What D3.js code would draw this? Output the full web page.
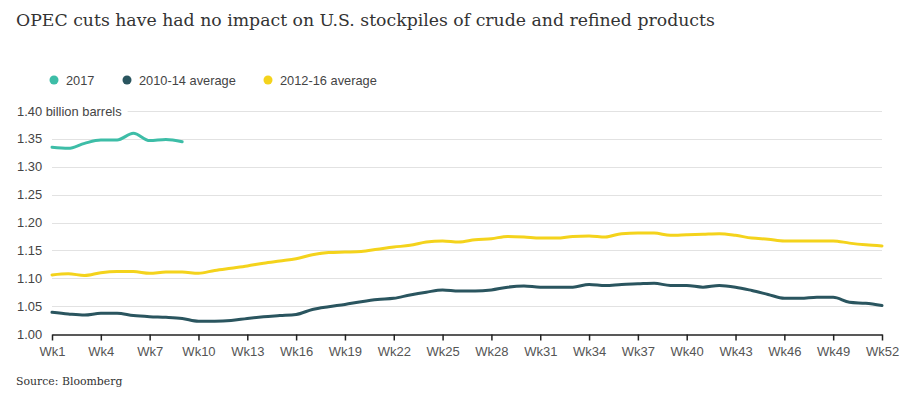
<!DOCTYPE html>
<html>
<head>
<meta charset="utf-8">
<script src="https://cdn.jsdelivr.net/npm/d3@7"></script>
<style>
  html, body { margin: 0; padding: 0; background: #fff; }
  svg { display: block; }
</style>
</head>
<body>
<svg id="chart" width="915" height="399"></svg>
<script>
// ---- data ----
const weeks = d3.range(1, 53);
const tickWeeks = [1, 4, 7, 10, 13, 16, 19, 22, 25, 28, 31, 34, 37, 40, 43, 46, 49, 52];
const yTicks = [1.00, 1.05, 1.10, 1.15, 1.20, 1.25, 1.30, 1.35, 1.40];
const seriesNames = ["2017", "2010-14 average", "2012-16 average"];
const v2017 = [1.335, 1.333, 1.342, 1.348, 1.348, 1.360, 1.347, 1.349, 1.345];
const avg1014 = [1.039, 1.036, 1.034, 1.037, 1.037, 1.033, 1.031, 1.030, 1.028, 1.023,
  1.023, 1.024, 1.028, 1.031, 1.033, 1.035, 1.044, 1.049, 1.053, 1.058,
  1.062, 1.064, 1.070, 1.075, 1.079, 1.077, 1.077, 1.079, 1.084, 1.086,
  1.084, 1.084, 1.084, 1.089, 1.087, 1.089, 1.090, 1.091, 1.087, 1.087,
  1.084, 1.087, 1.084, 1.078, 1.071, 1.064, 1.064, 1.066, 1.066, 1.057,
  1.055, 1.051];
const avg1216 = [1.106, 1.108, 1.105, 1.110, 1.112, 1.112, 1.109, 1.111, 1.111, 1.109,
  1.114, 1.118, 1.122, 1.127, 1.131, 1.135, 1.142, 1.146, 1.147, 1.148,
  1.152, 1.156, 1.159, 1.165, 1.167, 1.165, 1.169, 1.171, 1.175, 1.174,
  1.172, 1.172, 1.175, 1.176, 1.174, 1.180, 1.181, 1.181, 1.177, 1.178,
  1.179, 1.180, 1.177, 1.172, 1.170, 1.167, 1.167, 1.167, 1.167, 1.163,
  1.160, 1.158];
const colors = ["#3dbda7", "#2a555f", "#f4d31c"];
const seriesData = [v2017, avg1014, avg1216];

// ---- layout ----
const svg = d3.select("#chart");
const plotLeft = 52, plotRight = 882, plotTop = 111, plotBottom = 334;
const x = d3.scaleLinear().domain([1, 52]).range([plotLeft, plotRight]);
const y = d3.scaleLinear().domain([1.00, 1.40]).range([plotBottom, plotTop]);

// title
svg.append("text")
  .attr("x", 16).attr("y", 26)
  .attr("font-family", "Georgia, 'DejaVu Serif', serif")
  .attr("font-size", 17.3)
  .attr("fill", "#333")
  .text("OPEC cuts have had no impact on U.S. stockpiles of crude and refined products");

// legend
const legendX = [54, 127, 268];
seriesNames.forEach((name, i) => {
  const g = svg.append("g").attr("transform", `translate(${legendX[i]},80)`);
  g.append("circle").attr("r", 4.5).attr("fill", colors[i]);
  g.append("text").attr("x", 12).attr("y", 4.5)
    .attr("font-family", "'Liberation Sans', Arial, sans-serif")
    .attr("font-size", 12.8).attr("fill", "#444").text(name);
});

// grid lines + y labels
const yAxisG = svg.append("g");
yTicks.forEach(t => {
  const label = t === 1.40 ? "1.40 billion barrels" : d3.format(".2f")(t);
  const txt = yAxisG.append("text")
    .attr("x", 17).attr("y", y(t) + 4.5)
    .attr("font-family", "'Liberation Sans', Arial, sans-serif")
    .attr("font-size", 12.9).attr("fill", "#444").text(label);
  if (t > 1.00) {
    const x0 = t === 1.40 ? 17 + txt.node().getComputedTextLength() + 6 : plotLeft;
    yAxisG.append("line")
      .attr("x1", x0).attr("x2", plotRight)
      .attr("y1", Math.round(y(t)) + 0.5).attr("y2", Math.round(y(t)) + 0.5)
      .attr("stroke", "#e2e2e2").attr("stroke-width", 1);
  }
});

// x axis
const xAxis = d3.axisBottom(x)
  .tickValues(tickWeeks)
  .tickSize(6)
  .tickSizeOuter(0)
  .tickFormat(d => "Wk" + d);
const xg = svg.append("g")
  .attr("transform", `translate(0,${plotBottom + 0.5})`)
  .call(xAxis);
xg.select(".domain").attr("stroke", "#222").attr("stroke-width", 1.5);
xg.selectAll(".tick line").attr("stroke", "#222").attr("stroke-width", 1.5);
xg.selectAll(".tick text")
  .attr("font-family", "'Liberation Sans', Arial, sans-serif")
  .attr("font-size", 13).attr("fill", "#555").attr("dy", "0.9em").attr("y", 10);

// lines
const line = d3.line()
  .x((d, i) => x(weeks[i]))
  .y(d => y(d))
  .curve(d3.curveMonotoneX);
[2, 1, 0].forEach(i => {
  svg.append("path")
    .datum(seriesData[i])
    .attr("d", line)
    .attr("fill", "none")
    .attr("stroke", colors[i])
    .attr("stroke-width", 3)
    .attr("stroke-linejoin", "round")
    .attr("stroke-linecap", "round");
});

// source
svg.append("text")
  .attr("x", 16).attr("y", 385)
  .attr("font-family", "Georgia, 'DejaVu Serif', serif")
  .attr("font-size", 10.9)
  .attr("fill", "#333")
  .text("Source: Bloomberg");
</script>
</body>
</html>
